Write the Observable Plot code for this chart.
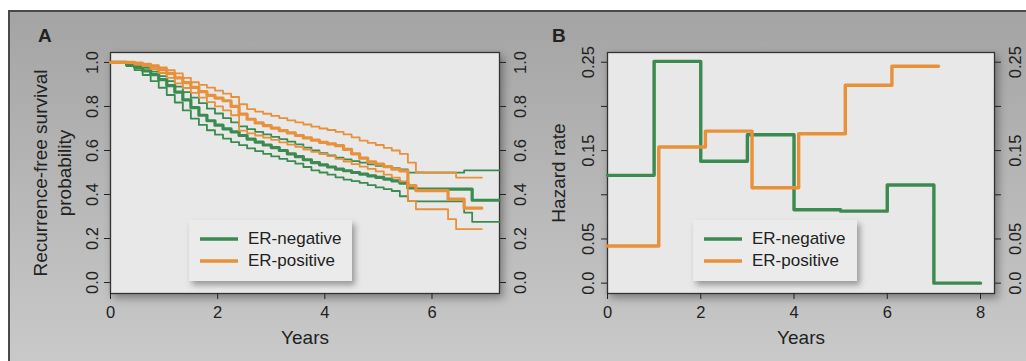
<!DOCTYPE html>
<html><head><meta charset="utf-8">
<script src="https://cdn.jsdelivr.net/npm/d3@7"></script>
<script src="https://cdn.jsdelivr.net/npm/@observablehq/plot@0.6"></script>
<style>
html,body{margin:0;padding:0;background:#fff;}
body{width:1026px;height:361px;overflow:hidden;position:relative;font-family:"Liberation Sans",Arial,Helvetica,sans-serif;}
#fig{position:absolute;left:8px;top:10px;width:1018px;height:351px;border-top:2px solid #4a4a4a;border-left:2px solid #4a4a4a;box-sizing:border-box;background:linear-gradient(to bottom,#a4a4a4,#c9c9c9);}
.panel{position:absolute;top:0;}
.letter{position:absolute;font-weight:bold;font-size:19px;color:#222;line-height:19px;}
.legend{position:absolute;background:#ebebeb;box-shadow:3px 4px 6px rgba(0,0,0,0.35);}
.legend .row{position:absolute;left:0;height:20px;display:flex;align-items:center;font-size:17px;color:#222;}
.legend svg{display:block;}
</style>
</head><body>
<div id="fig"></div>
<div id="panelA" class="panel" style="left:0"></div>
<div id="panelB" class="panel" style="left:520px"></div>
<div class="letter" style="left:38px;top:26px">A</div>
<div class="letter" style="left:552px;top:26px">B</div>
<div id="legA" class="legend" style="left:189px;top:220px;width:163px;height:61px"></div>
<div id="legB" class="legend" style="left:693px;top:220px;width:164px;height:61px"></div>
<script>
// ---------- Panel A: Kaplan-Meier curves ----------
const kmTime = [0,0.15,0.3,0.45,0.6,0.75,0.9,1.05,1.2,1.35,1.5,1.65,1.8,1.95,2.1,2.25,2.4,2.55,2.7,2.85,3.0,3.15,3.3,3.45,3.6,3.75,3.9,4.05,4.2,4.35,4.5,4.65,4.8,4.95,5.1,5.25,5.4,5.55,5.7,5.85,6.0,6.15,6.3,6.45,6.6,6.75,6.9];
const negSurv  = [1.0,1.0,0.99,0.978,0.962,0.945,0.922,0.895,0.865,0.83,0.795,0.76,0.735,0.715,0.698,0.685,0.668,0.652,0.638,0.625,0.613,0.6,0.585,0.572,0.558,0.545,0.535,0.525,0.515,0.508,0.5,0.493,0.485,0.478,0.47,0.462,0.452,0.43,0.424,0.424,0.424,0.424,0.424,0.424,0.424,0.374,0.374];
const negUpper = [1.0,1.0,0.997,0.988,0.975,0.958,0.938,0.915,0.89,0.865,0.84,0.815,0.79,0.768,0.747,0.728,0.71,0.697,0.685,0.673,0.662,0.652,0.64,0.628,0.613,0.6,0.588,0.578,0.568,0.56,0.552,0.545,0.537,0.53,0.525,0.52,0.514,0.499,0.499,0.499,0.499,0.499,0.499,0.499,0.51,0.51,0.51];
const negLower = [1.0,0.998,0.983,0.965,0.943,0.915,0.885,0.852,0.818,0.782,0.745,0.716,0.692,0.672,0.654,0.638,0.624,0.61,0.597,0.585,0.573,0.562,0.552,0.54,0.525,0.51,0.5,0.49,0.478,0.468,0.461,0.453,0.443,0.432,0.424,0.416,0.392,0.371,0.369,0.369,0.369,0.369,0.369,0.369,0.318,0.276,0.276];
const posSurv  = [1.0,1.0,1.0,0.995,0.99,0.98,0.967,0.95,0.93,0.908,0.887,0.867,0.85,0.838,0.826,0.8,0.765,0.742,0.725,0.713,0.702,0.69,0.68,0.668,0.657,0.647,0.637,0.63,0.622,0.605,0.585,0.565,0.548,0.538,0.527,0.515,0.507,0.44,0.418,0.418,0.418,0.418,0.379,0.379,0.338,0.338,0.338];
const posUpper = [1.0,1.0,1.0,1.0,0.995,0.988,0.978,0.965,0.95,0.93,0.91,0.898,0.886,0.872,0.858,0.843,0.81,0.788,0.777,0.767,0.757,0.747,0.737,0.728,0.718,0.708,0.7,0.693,0.685,0.673,0.66,0.645,0.635,0.625,0.612,0.6,0.585,0.545,0.502,0.5,0.5,0.5,0.5,0.477,0.477,0.477,0.477];
const posLower = [1.0,1.0,0.997,0.99,0.983,0.97,0.952,0.93,0.905,0.884,0.862,0.84,0.82,0.8,0.782,0.76,0.69,0.678,0.668,0.658,0.648,0.637,0.627,0.616,0.604,0.594,0.584,0.574,0.562,0.55,0.538,0.527,0.516,0.505,0.49,0.477,0.46,0.371,0.333,0.333,0.333,0.333,0.288,0.243,0.243,0.243,0.243];
const negEnd = 7.26;   // last follow-up shown (ER-negative)
const posEnd = 6.93;   // last follow-up (ER-positive)
const aXTicks = [0,2,4,6];
const aYTicks = [0,0.2,0.4,0.6,0.8,1.0];

// ---------- Panel B: hazard rates ----------
const negHazTime = [0,1,2,3,4,5,6,7,8];
const negHaz     = [0.122,0.251,0.138,0.168,0.083,0.0815,0.111,0.0,0.0];
const posHazTime = [0,1.1,2.1,3.1,4.1,5.1,6.1,7.1];
const posHaz     = [0.042,0.154,0.172,0.108,0.169,0.224,0.2455,0.2455];
const bXTicks = [0,2,4,6,8];
const bYTicks = [0,0.05,0.1,0.15,0.2,0.25];
const bYLabels = [0,0.05,0.15,0.25];

const seriesNames = ["ER-negative","ER-positive"];
const seriesColors = ["#3b8a4f","#e8903a"];

const FONT = '"Liberation Sans", Arial, Helvetica, sans-serif';
const TXT = "#222";

function steps(times, vals, end){
  const pts = times.map((t,i)=>({t, v: vals[i]}));
  if (end !== undefined) pts.push({t: end, v: vals[vals.length-1]});
  return pts;
}
function shadowFrame(svg){
  const fr = svg.querySelector('[aria-label="frame"]');
  if (fr) fr.style.filter = "drop-shadow(3px 4px 4px rgba(0,0,0,0.35))";
}

const fmt1 = d => d.toFixed(1);
const fmtB = d => d === 0 ? "0.0" : d.toFixed(2);
const rot = {rotate: -90, textAnchor: "middle", lineAnchor: "middle"};

const plotA = Plot.plot({
  width: 520, height: 361,
  marginLeft: 110, marginRight: 21, marginTop: 52, marginBottom: 68,
  x: {domain: [0, 7.26]},
  y: {domain: [-0.0498, 1.0452]},
  style: {background: "transparent", overflow: "visible", fontFamily: FONT, color: TXT},
  marks: [
    Plot.frame({fill: "#e8e8e8", stroke: "#333", strokeWidth: 1.3}),
    Plot.axisX({ticks: aXTicks, tickSize: 6, tickPadding: 7, fontSize: 16.5, label: null, tickFormat: d => String(d)}),
    Plot.axisY({ticks: aYTicks, tickSize: 6, tickFormat: () => "", label: null}),
    Plot.axisY({anchor: "right", ticks: aYTicks, tickSize: 6, tickFormat: () => "", label: null}),
    Plot.text(aYTicks, {y: d => d, text: fmt1, frameAnchor: "left", dx: -17.5, ...rot, fontSize: 16.5, fill: TXT}),
    Plot.text(aYTicks, {y: d => d, text: fmt1, frameAnchor: "right", dx: 21, ...rot, fontSize: 16.5, fill: TXT}),
    Plot.text(["Recurrence-free survival\nprobability"], {frameAnchor: "left", dx: -59, ...rot, fontSize: 19, lineHeight: 1.25, fill: TXT}),
    Plot.text(["Years"], {frameAnchor: "bottom", dy: 44.7, textAnchor: "middle", lineAnchor: "middle", fontSize: 19, fill: TXT}),
    Plot.line(steps(kmTime, negUpper, negEnd), {x: "t", y: "v", curve: "step-after", stroke: seriesColors[0], strokeWidth: 1.8}),
    Plot.line(steps(kmTime, negLower, negEnd), {x: "t", y: "v", curve: "step-after", stroke: seriesColors[0], strokeWidth: 1.8}),
    Plot.line(steps(kmTime, negSurv, negEnd), {x: "t", y: "v", curve: "step-after", stroke: seriesColors[0], strokeWidth: 3.2}),
    Plot.line(steps(kmTime, posUpper, posEnd), {x: "t", y: "v", curve: "step-after", stroke: seriesColors[1], strokeWidth: 1.8}),
    Plot.line(steps(kmTime, posLower, posEnd), {x: "t", y: "v", curve: "step-after", stroke: seriesColors[1], strokeWidth: 1.8}),
    Plot.line(steps(kmTime, posSurv, posEnd), {x: "t", y: "v", curve: "step-after", stroke: seriesColors[1], strokeWidth: 3.2})
  ]
});
shadowFrame(plotA);
document.getElementById("panelA").appendChild(plotA);

const plotB = Plot.plot({
  width: 506, height: 361,
  marginLeft: 87, marginRight: 32, marginTop: 52, marginBottom: 68,
  x: {domain: [0, 8.3]},
  y: {domain: [-0.0117, 0.261]},
  style: {background: "transparent", overflow: "visible", fontFamily: FONT, color: TXT},
  marks: [
    Plot.frame({fill: "#e8e8e8", stroke: "#333", strokeWidth: 1.3}),
    Plot.axisX({ticks: bXTicks, tickSize: 6, tickPadding: 7, fontSize: 16.5, label: null, tickFormat: d => String(d)}),
    Plot.axisY({ticks: bYTicks, tickSize: 6, tickFormat: () => "", label: null}),
    Plot.axisY({anchor: "right", ticks: bYTicks, tickSize: 6, tickFormat: () => "", label: null}),
    Plot.text(bYLabels, {y: d => d, text: fmtB, frameAnchor: "left", dx: -18.7, ...rot, fontSize: 16.5, fill: TXT}),
    Plot.text(bYLabels, {y: d => d, text: fmtB, frameAnchor: "right", dx: 21, ...rot, fontSize: 16.5, fill: TXT}),
    Plot.text(["Hazard rate"], {frameAnchor: "left", dx: -48.3, ...rot, fontSize: 19, fill: TXT}),
    Plot.text(["Years"], {frameAnchor: "bottom", dy: 44.7, textAnchor: "middle", lineAnchor: "middle", fontSize: 19, fill: TXT}),
    Plot.line(steps(negHazTime, negHaz), {x: "t", y: "v", curve: "step-after", stroke: seriesColors[0], strokeWidth: 3.4}),
    Plot.line(steps(posHazTime, posHaz), {x: "t", y: "v", curve: "step-after", stroke: seriesColors[1], strokeWidth: 3.4})
  ]
});
shadowFrame(plotB);
document.getElementById("panelB").appendChild(plotB);

// Legends
function buildLegend(id){
  const el = document.getElementById(id);
  seriesNames.forEach((name, i) => {
    const row = document.createElement("div");
    row.className = "row";
    row.style.top = (9 + i * 22) + "px";
    row.innerHTML = `<svg width="59" height="20"><line x1="11" x2="49" y1="10" y2="10" stroke="${seriesColors[i]}" stroke-width="3.4"/></svg><span>${name}</span>`;
    el.appendChild(row);
  });
}
buildLegend("legA");
buildLegend("legB");
</script>
</body></html>
